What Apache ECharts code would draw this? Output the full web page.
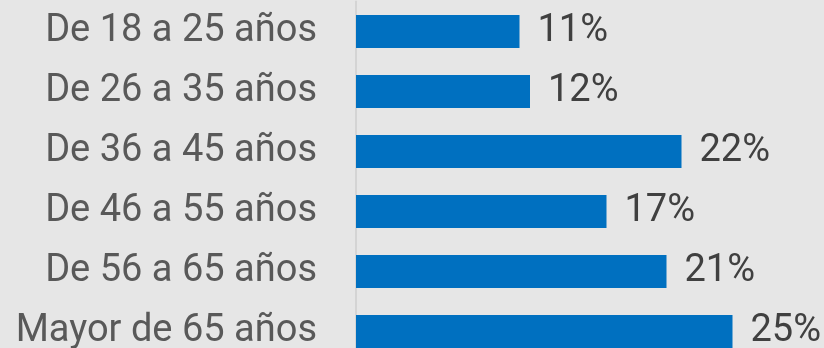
<!DOCTYPE html>
<html>
<head>
<meta charset="utf-8">
<script src="https://cdn.jsdelivr.net/npm/echarts@6/dist/echarts.min.js"></script>
<style>
  html, body { margin: 0; padding: 0; background: #e6e6e6; }
  #chart { width: 824px; height: 348px; }
</style>
</head>
<body>
<div id="chart"></div>
<script>
// grupos de edad y porcentajes
const ageGroups = ['De 18 a 25 años', 'De 26 a 35 años', 'De 36 a 45 años', 'De 46 a 55 años', 'De 56 a 65 años', 'Mayor de 65 años']
const shares = [10.9, 11.6, 21.7, 16.7, 20.7, 25.1]

const chart = echarts.init(document.getElementById('chart'))
chart.setOption({
  backgroundColor: '#e6e6e6',
  animation: false,
  grid: {
    left: 356,
    top: 1.5,
    width: 450,
    height: 360,
    containLabel: false,
    outerBoundsMode: 'none'
  },
  xAxis: {
    type: 'value',
    min: 0,
    max: 30,
    show: false
  },
  yAxis: {
    type: 'category',
    inverse: true,
    data: ageGroups,
    axisTick: { show: false },
    axisLine: { show: true, lineStyle: { color: '#d4d4d4', width: 2 } },
    axisLabel: {
      margin: 39,
      color: '#595959',
      fontFamily: 'Roboto',
      fontSize: 38
    }
  },
  series: [{
    type: 'bar',
    data: shares,
    barWidth: 33,
    itemStyle: { color: '#0070c0' },
    label: {
      show: true,
      position: 'right',
      distance: 18,
      color: '#404040',
      fontFamily: 'Roboto',
      fontSize: 38,
      formatter: p => Math.round(p.value) + '%'
    }
  }]
})
</script>
</body>
</html>
